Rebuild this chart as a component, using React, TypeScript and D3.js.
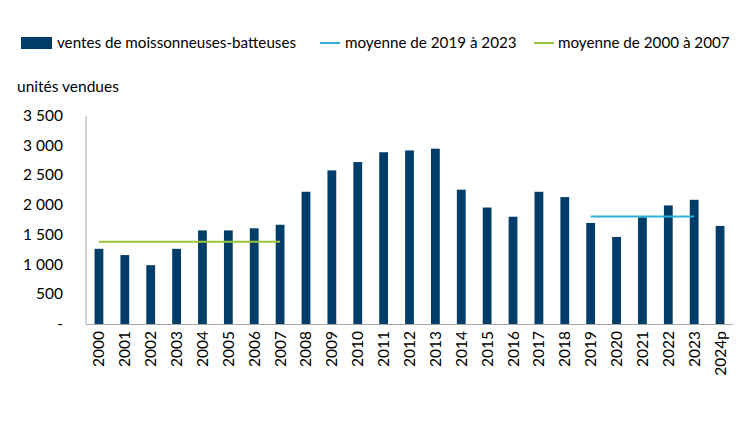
import React from 'react';
import * as d3 from 'd3';

const years = ['2000','2001','2002','2003','2004','2005','2006','2007','2008','2009','2010','2011','2012','2013','2014','2015','2016','2017','2018','2019','2020','2021','2022','2023','2024p'];
const sales = [1265,1160,990,1265,1575,1575,1610,1670,2225,2585,2725,2890,2920,2950,2260,1960,1805,2225,2135,1700,1465,1795,1995,2090,1650];
const avg2019 = 1810;
const avg2000 = 1385;
const yTicks = [0,500,1000,1500,2000,2500,3000,3500];
const legendLabels = ['ventes de moissonneuses-batteuses','moyenne de 2019 à 2023','moyenne de 2000 à 2007'];

const W = 750, H = 422;
const left = 86, right = 733, top = 116, bottom = 324;
const font = 'Lato, "Open Sans", sans-serif';
const barColor = '#003d68';
const blue = '#2eb0d8';
const green = '#9bc23c';

const fmt = (v: number) => v === 0 ? '-' : d3.format(',')(v).replace(',', ' ');

export default function App() {
  const x = d3.scaleBand().domain(years).range([left, right]).paddingInner(0.66).paddingOuter(0.33);
  const y = d3.scaleLinear().domain([0, 3500]).range([bottom, top]);
  const cx = (yr: string) => (x(yr) as number) + x.bandwidth() / 2;

  return (
    <svg width={W} height={H} style={{ position: 'absolute', left: 0, top: 0, background: '#fff' }} fontFamily={font}>
      {/* legend */}
      <rect x={21} y={37} width={31} height={12} fill={barColor} />
      <text x={57} y={48} fontSize={15.2} fill="#000">{legendLabels[0]}</text>
      <line x1={320} x2={340} y1={43} y2={43} stroke={blue} strokeWidth={2} />
      <text x={345} y={48} fontSize={15.2} fill="#000">{legendLabels[1]}</text>
      <line x1={534} x2={554} y1={43} y2={43} stroke={green} strokeWidth={2} />
      <text x={558} y={48} fontSize={15.2} fill="#000">{legendLabels[2]}</text>

      <text x={17} y={92} fontSize={15.5} fill="#000">unités vendues</text>

      {yTicks.map(t => (
        <text key={t} x={63} y={y(t) + 5} fontSize={15.5} textAnchor="end" fill="#000">{fmt(t)}</text>
      ))}

      {sales.map((v, i) => (
        <rect key={years[i]} x={x(years[i])} y={y(v)} width={x.bandwidth()} height={y(0) - y(v)} fill={barColor} />
      ))}

      <line x1={left} x2={left} y1={top} y2={bottom} stroke="#a6a6a6" strokeWidth={1} />
      <line x1={left} x2={right} y1={bottom + 0.5} y2={bottom + 0.5} stroke="#a6a6a6" strokeWidth={1} />

      <line x1={cx('2000')} x2={cx('2007')} y1={y(avg2000)} y2={y(avg2000)} stroke={green} strokeWidth={2} />
      <line x1={cx('2019')} x2={cx('2023')} y1={y(avg2019)} y2={y(avg2019)} stroke={blue} strokeWidth={2} />

      {years.map(yr => (
        <text key={yr} transform={`translate(${cx(yr) + 5.5},${bottom + 7}) rotate(-90)`} fontSize={15.5} textAnchor="end" fill="#000">{yr}</text>
      ))}
    </svg>
  );
}
